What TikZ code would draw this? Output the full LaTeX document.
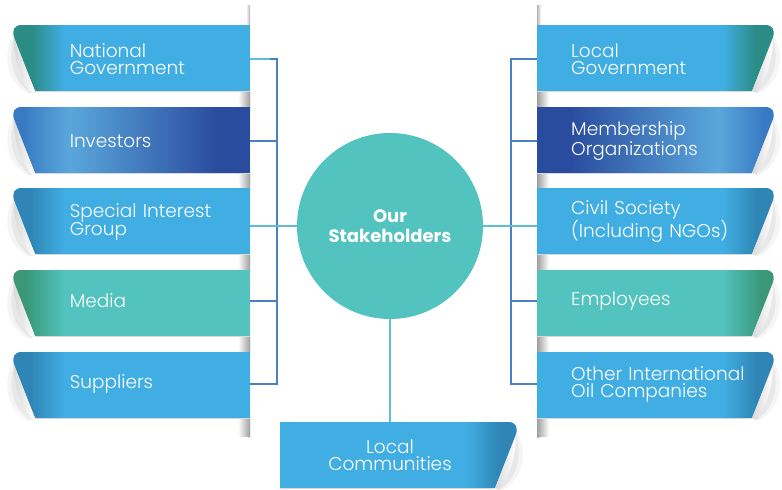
\documentclass[tikz,border=0pt]{standalone}
\usepackage{fontspec}
\setmainfont{Poppins}[UprightFont=* Light, BoldFont=* Bold]
\usetikzlibrary{positioning}

\definecolor{skyblue}{HTML}{40AEE3}
\definecolor{tealbody}{HTML}{52C3BE}
\definecolor{darkteal}{HTML}{2A8C84}
\definecolor{deepblue}{HTML}{2A4C9E}
\definecolor{midblue}{HTML}{3779C2}
\definecolor{paleblue}{HTML}{5AA7DC}
\definecolor{steelblue}{HTML}{2F86B6}
\definecolor{seagreen}{HTML}{3A9878}
\definecolor{busblue}{HTML}{4A80C8}
\definecolor{stubteal}{HTML}{5CBFD2}

% left banners: curl on the left, right banners: curl on the right
\pgfdeclarehorizontalshading{natgov}{100bp}{color(0bp)=(darkteal); color(29bp)=(darkteal); color(36bp)=(skyblue); color(100bp)=(skyblue)}
\pgfdeclarehorizontalshading{natgovR}{100bp}{color(0bp)=(skyblue); color(64bp)=(skyblue); color(71bp)=(darkteal); color(100bp)=(darkteal)}
\pgfdeclarehorizontalshading{invest}{100bp}{color(0bp)=(midblue); color(27bp)=(midblue); color(37bp)=(paleblue); color(68bp)=(deepblue); color(100bp)=(deepblue)}
\pgfdeclarehorizontalshading{investR}{100bp}{color(0bp)=(deepblue); color(32bp)=(deepblue); color(63bp)=(paleblue); color(73bp)=(midblue); color(100bp)=(midblue)}
\pgfdeclarehorizontalshading{special}{100bp}{color(0bp)=(steelblue); color(29bp)=(steelblue); color(36bp)=(skyblue); color(100bp)=(skyblue)}
\pgfdeclarehorizontalshading{specialR}{100bp}{color(0bp)=(skyblue); color(64bp)=(skyblue); color(71bp)=(steelblue); color(100bp)=(steelblue)}
\pgfdeclarehorizontalshading{media}{100bp}{color(0bp)=(seagreen); color(28bp)=(seagreen); color(36bp)=(tealbody); color(100bp)=(tealbody)}
\pgfdeclarehorizontalshading{mediaR}{100bp}{color(0bp)=(tealbody); color(64bp)=(tealbody); color(72bp)=(seagreen); color(100bp)=(seagreen)}

\tikzset{
  banner/.pic={
    % soft shadow behind the curl
    \fill[gray!8] (-236,8) .. controls (-248,30) and (-245,56) .. (-221,69) -- (-215,66) -- cycle;
    \fill[gray!18] (-236,12) .. controls (-242,34) and (-238,56) .. (-219,68) -- (-215,66) -- cycle;
    % ribbon body
    \shade[shading=#1] (0,0) -- (-228,0) .. controls (-236,0) and (-238,5) .. (-236,12) -- (-215,66) -- (0,66) -- cycle;
    % curled corner
    \shade[left color=gray!30, right color=white] (-236,14) .. controls (-236,36) and (-228,58) .. (-219,67) -- (-215,66) -- cycle;
    \draw[gray!30, line width=1pt] (-214,66.8) -- (0,66.8);
  }
}

\begin{document}
\begin{tikzpicture}[x=1pt, y=-1pt]
        % Define block styles
        \tikzstyle{lbl} = [text width=180pt, align=left, inner sep=0pt, minimum height=66pt, text=white, font=\fontsize{18.5}{17}\selectfont]
        \tikzstyle{rlbl} = [lbl, text width=205pt, anchor=west]
        \tikzstyle{hub} = [circle, fill=tealbody, minimum size=186pt, inner sep=0pt, text=white, align=center, font=\bfseries\fontsize{18}{19.5}\selectfont]
        \tikzstyle{link} = [draw=busblue, line width=1.3pt]
        \tikzstyle{stub} = [draw=stubteal, line width=1.3pt]

        \useasboundingbox (0,0) rectangle (782,490);

        % Grey fold bars behind the ribbons
        \shade[left color=white, right color=gray!60] (246,5) rectangle (250,437);
        \shade[left color=gray!60, right color=white] (537,5) rectangle (541,437);
        \foreach \t in {25,107,188,270,352} {
          \shade[left color=white, right color=gray!75] (238,\t+66) rectangle (250,\t+84);
          \shade[left color=gray!75, right color=white] (537,\t+66) rectangle (549,\t+84);
        }

        % Ribbons
        \pic at (250,25) {banner=natgov};
        \pic at (250,107) {banner=invest};
        \pic at (250,188) {banner=special};
        \pic at (250,270) {banner=media};
        \pic at (250,352) {banner=special};
        \pic[xscale=-1] at (537,25) {banner=natgovR};
        \pic[xscale=-1] at (537,107) {banner=investR};
        \pic[xscale=-1] at (537,188) {banner=specialR};
        \pic[xscale=-1] at (537,270) {banner=mediaR};
        \pic[xscale=-1] at (537,352) {banner=specialR};
        \pic[xscale=-1] at (280,422) {banner=specialR};

        % Place nodes
        \node [hub] (hub) at (390,226) {Our\\Stakeholders};

        \node [lbl, anchor=east] (natgov) at (250,59) {National\\Government};
        \node [lbl, anchor=east] (investors) at (250,141) {Investors};
        \node [lbl, anchor=east] (special) at (250,222) {Special Interest\\Group};
        \node [lbl, anchor=east] (media) at (250,301) {Media};
        \node [lbl, anchor=east] (suppliers) at (250,384) {Suppliers};

        \node [rlbl] (localgov) at (571,59) {Local\\Government};
        \node [rlbl] (members) at (571,141) {Membership\\Organizations};
        \node [rlbl] (civil) at (571,222) {Civil Society\\(Including NGOs)};
        \node [rlbl] (employees) at (571,301) {Employees};
        \node [rlbl] (oilco) at (571,384) {Other International\\Oil Companies};

        \node [lbl, text width=200pt, align=center] (localcom) at (390,455) {Local\\Communities};

        % Connectors, left side
        \draw [link] (natgov.east) -| ([xshift=27pt]suppliers.east) -- (suppliers.east);
        \draw [stub] (natgov.east) -- ++(20,0);
        \draw [link] (investors.east) -- ++(27,0);
        \draw [link] (media.east) -- ++(27,0);
        \draw [stub] (special.east |- hub.west) -- (hub.west);

        % Connectors, right side
        \draw [link] ([xshift=-34pt]localgov.west) -| ([xshift=-60pt]oilco.west) -- ([xshift=-34pt]oilco.west);
        \draw [link] ([xshift=-34pt]members.west) -- ++(-26,0);
        \draw [link] ([xshift=-34pt]employees.west) -- ++(-26,0);
        \draw [stub] (hub.east) -- ([xshift=-34pt]civil.west |- hub.east);

        % Connector to the bottom ribbon
        \draw [stub] (hub.south) -- (localcom.north);
    \end{tikzpicture}
\end{document}
